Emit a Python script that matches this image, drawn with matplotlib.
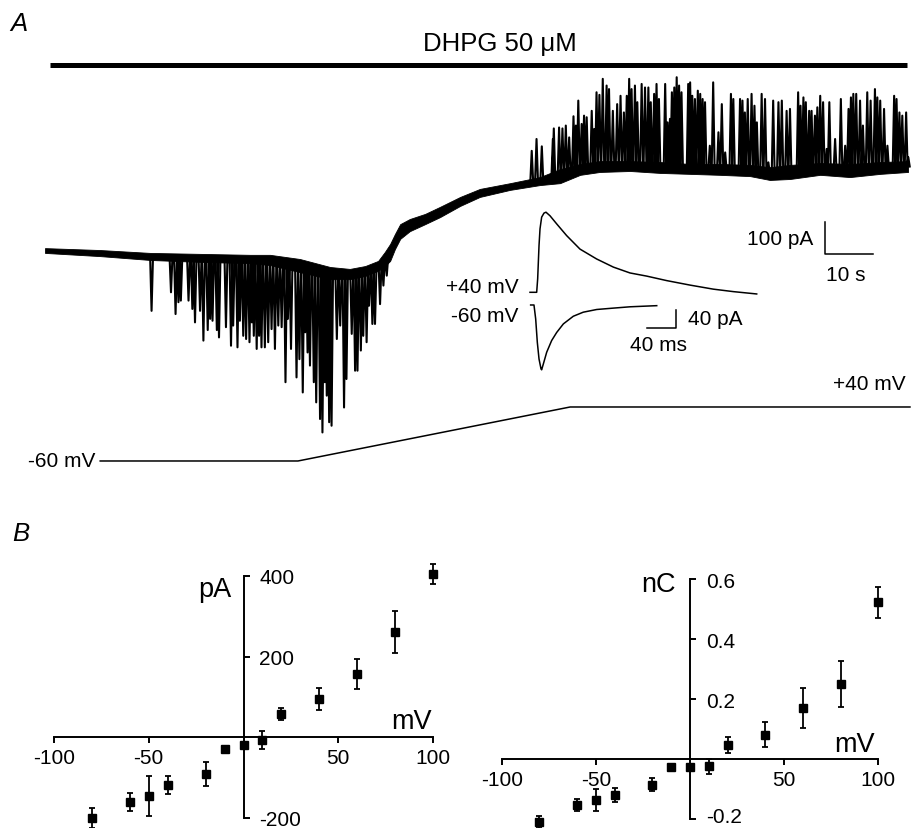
import numpy as np
import matplotlib
matplotlib.use('Agg')
import matplotlib.pyplot as plt
import matplotlib.transforms as mtransforms

plt.rcParams['font.family'] = ['Liberation Sans', 'DejaVu Sans']
plt.rcParams['axes.unicode_minus'] = False

# ---------------- Panel A data (time in s, current in pA) ----------------
# baseline noise band of the recording (upper / lower edge)
env_t = [0, 11.5, 21.9, 32.3, 42.7, 46.9, 53.1, 59.4, 63.5, 66.7, 69.4, 70.8, 71.9, 72.9,
         74.0, 76.0, 79.2, 82.3, 86.5, 90.6, 96.9, 103.1, 107.3, 111.5, 115.6, 121.9,
         128.1, 134.4, 140.6, 146.9, 151.0, 155.2, 161.5, 167.7, 174.0, 179.8]
env_top = [9, 3, -6, -9, -12, -12, -25, -50, -56, -47, -31, -3, 22, 53, 84, 100, 116, 138,
           169, 194, 212, 231, 256, 272, 281, 281, 278, 272, 272, 269, 262, 269, 275, 272,
           278, 281]
env_bot = [-6, -16, -28, -34, -38, -44, -66, -88, -88, -78, -62, -47, -31, 6, 38, 62, 84,
           106, 141, 169, 191, 206, 212, 238, 247, 250, 244, 241, 238, 234, 222, 225, 238,
           231, 241, 247]

# inward events (time, tip current)
down_t = [22.2, 26.25, 27.2, 27.8, 28.3, 29.9, 30.7, 31.25, 32.3, 33.0, 33.9, 34.4, 34.9,
          35.8, 36.25, 37.7, 38.75, 39.2, 40.1, 40.6, 41.3, 41.9, 42.6, 43.1, 43.5, 44.1,
          44.6, 45.1, 45.8, 46.5, 47.2, 47.9, 48.6, 49.3, 50.1, 50.6, 51.25, 52.4, 53.0,
          53.7, 54.2, 54.7, 55.2, 56.0, 56.5, 57.3, 57.8, 58.3, 58.7, 59.2, 59.7, 60.8,
          61.5, 62.3, 62.8, 63.9, 64.6, 65.1, 65.8, 66.3, 67.0, 67.5, 68.2, 68.75, 69.8,
          70.5, 71.2]
down_I = [-187, -129, -197, -160, -155, -155, -181, -223, -187, -280, -247, -212, -218,
          -247, -270, -238, -296, -233, -301, -218, -265, -275, -285, -223, -265, -306,
          -265, -301, -301, -285, -244, -306, -233, -238, -410, -212, -306, -395, -338,
          -442, -254, -317, -358, -410, -473, -525, -567, -410, -452, -535, -546, -275,
          -233, -489, -400, -259, -374, -374, -311, -265, -285, -171, -228, -228, -166,
          -108, -77]

# outward events (time, tip current)
up_t = [101.4, 102.4, 103.5, 105.8, 106.0, 107.1, 107.8, 108.5, 109.2, 110.1, 110.6, 111.1,
        111.8, 112.3, 112.85, 113.9, 114.4, 114.9, 115.5, 116.2, 117.0, 117.5, 118.3, 119.2,
        119.9, 120.6, 121.2, 121.7, 122.2, 122.9, 123.4, 124.3, 125.0, 125.7, 126.2, 126.9,
        127.4, 127.9, 129.2, 129.7, 130.2, 130.6, 131.1, 131.6, 132.1, 132.6, 134.0, 134.4,
        134.85, 135.4, 136.0, 136.5, 137.0, 137.5, 138.5, 139.2, 140.3, 141.0, 141.7, 142.9,
        143.4, 144.8, 145.3, 145.8, 146.4, 147.2, 147.8, 148.3, 149.3, 150.0, 150.7, 151.7,
        152.8, 153.5, 154.5, 155.2, 156.9, 157.4, 158.0, 158.5, 159.2, 159.7, 160.4, 160.9,
        161.5, 162.1, 162.85, 163.4, 164.6, 165.8, 166.7, 167.4, 167.9, 168.4, 169.0, 169.8,
        170.4, 171.3, 172.0, 172.9, 173.4, 174.0, 174.8, 175.5, 176.9, 177.4, 178.0, 178.6,
        179.4, 179.85]
up_I = [313, 350, 327, 350, 383, 386, 383, 392, 355, 421, 392, 470, 397, 423, 418, 438, 381,
        496, 488, 538, 517, 506, 438, 459, 485, 433, 485, 538, 506, 517, 465, 522, 511, 511,
        465, 491, 522, 475, 522, 402, 413, 496, 511, 543, 517, 496, 522, 527, 485, 475, 501,
        491, 475, 465, 329, 527, 371, 459, 308, 491, 475, 475, 470, 433, 475, 491, 454, 402,
        491, 475, 277, 470, 465, 470, 438, 444, 496, 454, 480, 465, 438, 438, 423, 449, 485,
        465, 319, 465, 350, 475, 329, 444, 480, 491, 491, 470, 392, 496, 470, 506, 480, 470,
        444, 329, 485, 475, 433, 423, 433, 293]

# holding potential command (s, mV)
cmd_t = [11.5, 52.7, 109.4, 180.2]
cmd_mV = [-60, -60, 40, 40]
dhpg_window = [1.0, 179.6]

# inset: averaged events (ms, pA)
ev40_ms = [0, 9.4, 10.8, 12.7, 14.1, 16.4, 19.7, 22.5, 28.2, 37.6, 51.6, 70.4, 93.9, 117.4,
           140.8, 164.3, 192.5, 225.4, 258.2, 286.4, 319.3]
ev40_pA = [0, 0, 30, 104, 141, 167, 176, 178, 170, 152, 126, 96, 74, 56, 43, 36, 26, 16, 7,
           1.5, -3.7]
ev60_ms = [0.9, 5.6, 8.0, 10.3, 12.7, 15.5, 16.4, 18.8, 23.5, 30.5, 37.6, 47, 61, 75, 94,
           117, 141, 178.5]
ev60_pA = [0, 0, -31, -83, -120, -142, -144, -131, -105, -79, -61, -42, -25, -16, -10, -7,
           -4, -1.5]

# ---------------- Panel B data ----------------
iv_mV = [-80, -60, -50, -40, -20, -10, 0, 10, 20, 40, 60, 80, 100]
iv_pA = [-200, -160, -146, -118, -91, -29, -20, -7, 58, 95, 157, 261, 405]
iv_pA_err = [26, 23, 50, 23, 30, 0, 0, 23, 15, 27, 38, 51, 24]
q_nC = [-0.211, -0.152, -0.137, -0.121, -0.086, -0.026, -0.028, -0.024, 0.048, 0.081,
        0.169, 0.25, 0.522]
q_nC_err = [0.02, 0.02, 0.037, 0.023, 0.022, 0, 0.01, 0.025, 0.027, 0.042, 0.067, 0.078,
            0.052]

# ---------------- figure ----------------
W, H = 919, 829
fig = plt.figure(figsize=(W / 100, H / 100), dpi=100)


def frac(px0, py0, px1, py1):
    return [px0 / W, 1 - py1 / H, (px1 - px0) / W, (py1 - py0) / H]


TXT = 15
axA = fig.add_axes(frac(0, 0, W, 500))
axA.set_xlim(-9.375, 182.08)
axA.set_ylim(-775, 787.5)
axA.axis('off')

axA.fill_between(env_t, env_bot, env_top, color='k', lw=0.6)
mid = (np.array(env_top) + np.array(env_bot)) / 2.0


def spike_path(ts, tips, halfw=0.3):
    xs, ys = [], []
    for t, tip in zip(ts, tips):
        b = np.interp(t, env_t, mid)
        xs += [t - halfw, t, t + halfw, np.nan]
        ys += [b, tip, b, np.nan]
    return xs, ys


xs, ys = spike_path(down_t, down_I)
axA.plot(xs, ys, color='k', lw=1.5)
xs, ys = spike_path(up_t, up_I)
axA.plot(xs, ys, color='k', lw=1.5)

# DHPG bar
axA.plot(dhpg_window, [580, 580], color='k', lw=3.6, solid_capstyle='butt')
axA.text(94.8, 650, 'DHPG 50 μM', ha='center', va='center', fontsize=18.5)

# scale bar 10 s / 100 pA
axA.plot([162.5, 162.5, 172.5], [90.6, -9.4, -9.4], color='k', lw=1.1)
axA.text(160.0, 37.5, '100 pA', ha='right', va='center', fontsize=TXT)
axA.text(166.9, -72, '10 s', ha='center', va='center', fontsize=TXT)

# voltage command
axV = fig.add_axes(frac(0, 0, W, 500))
axV.set_xlim(-9.375, 182.08)
axV.set_ylim(-130.4, 795.6)
axV.axis('off')
axV.plot(cmd_t, cmd_mV, color='k', lw=1.1)
axV.text(-3.5, -60, '-60 mV', ha='left', va='center', fontsize=TXT)
axV.text(179.2, 82.6, '+40 mV', ha='right', va='center', fontsize=TXT)

# inset
axI = fig.add_axes(frac(430, 200, 800, 380))
axI.set_xlim(-140.85, 380.28)
axI.set_ylim(-192.67, 207.33)
axI.axis('off')
axI.plot(ev40_ms, ev40_pA, color='k', lw=1.1)
off60 = -28.2
axI.plot(ev60_ms, np.array(ev60_pA) + off60, color='k', lw=1.1)
axI.plot([165.2, 205.2, 205.2], [-79.3, -79.3, -39.3], color='k', lw=1.1)
axI.text(222.5, -59.3, '40 pA', ha='left', va='center', fontsize=TXT)
axI.text(180.3, -115, '40 ms', ha='center', va='center', fontsize=TXT)
axI.text(-16, 12, '+40 mV', ha='right', va='center', fontsize=TXT)
axI.text(-16, -51, '-60 mV', ha='right', va='center', fontsize=TXT)

fig.text(10 / W, 1 - 24 / H, 'A', style='italic', fontsize=18.5, va='center', ha='left')
fig.text(12 / W, 1 - 534 / H, 'B', style='italic', fontsize=18.5, va='center', ha='left')


def iv_axes(box, ylim, yticks, yticklabels):
    ax = fig.add_axes(frac(*box))
    ax.set_xlim(-100, 100)
    ax.set_ylim(*ylim)
    ax.patch.set_visible(False)
    ax.spines['top'].set_visible(False)
    ax.spines['left'].set_visible(False)
    ax.spines['right'].set_position(('data', 0))
    ax.spines['bottom'].set_position(('data', 0))
    for s in ('right', 'bottom'):
        ax.spines[s].set_linewidth(1.4)
    ax.yaxis.tick_right()
    ax.set_xticks([-100, -50, 50, 100])
    ax.set_xticklabels(['-100', '-50', '50', '100'])
    ax.set_yticks(yticks)
    ax.set_yticklabels(yticklabels)
    ax.tick_params(axis='x', direction='out', length=4, width=1.4, labelsize=TXT, pad=4)
    ax.tick_params(axis='y', direction='out', length=4, width=1.4, labelsize=TXT, pad=7.5)
    return ax


ax1 = iv_axes((54, 577, 433, 819), (-200, 400), [-200, 200, 400], ['-200', '200', '400'])
ax1.errorbar(iv_mV, iv_pA, yerr=iv_pA_err, fmt='s', color='k', ms=6, elinewidth=1.3,
             capsize=2.5, capthick=1.3, clip_on=False, zorder=5)
ax1.text(-6.2, 368, 'pA', ha='right', va='center', fontsize=19.5)
ax1.text(99.3, 41, 'mV', ha='right', va='center', fontsize=19.5)

ax2 = iv_axes((501.7, 580, 878.3, 820), (-0.2, 0.6), [-0.2, 0.2, 0.4, 0.6],
              ['-0.2', '0.2', '0.4', '0.6'])
ax2.errorbar(iv_mV, q_nC, yerr=q_nC_err, fmt='s', color='k', ms=6, elinewidth=1.3,
             capsize=2.5, capthick=1.3, clip_on=False, zorder=5)
ax2.text(-7.4, 0.583, 'nC', ha='right', va='center', fontsize=19.5)
ax2.text(98.2, 0.05, 'mV', ha='right', va='center', fontsize=19.5)

# keep the lowest tick label inside the canvas
lab = ax2.get_yticklabels()[0]
lab.set_transform(lab.get_transform() + mtransforms.ScaledTranslation(0, 3 / 72, fig.dpi_scale_trans))

fig.savefig('out.png', dpi=100)
